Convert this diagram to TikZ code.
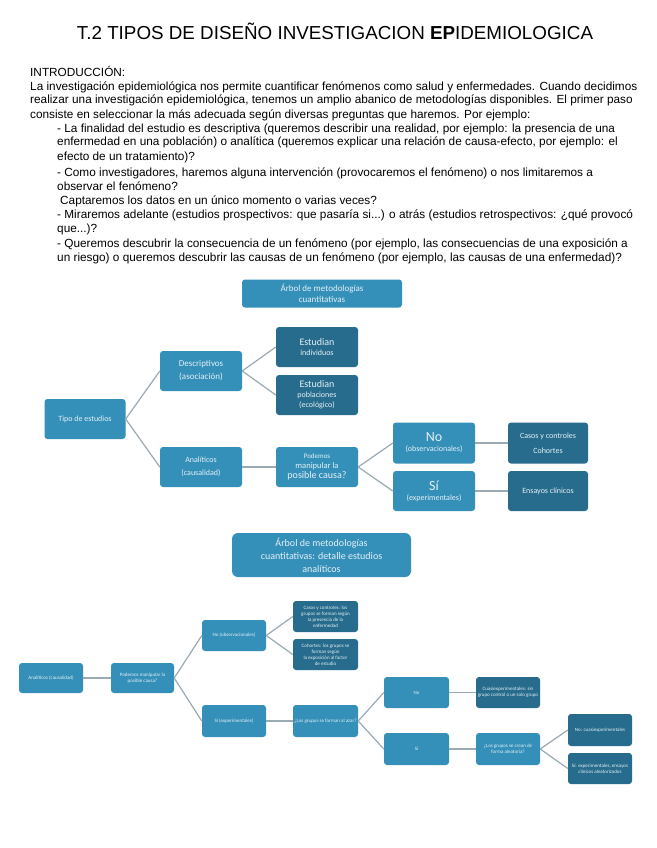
\documentclass[tikz,border=0pt]{standalone}
\usepackage{fontspec}
\setmainfont{Liberation Sans}
\newfontfamily\calib{Carlito}
\definecolor{mblue}{HTML}{3590B9}
\definecolor{dblue}{HTML}{276C8C}
\definecolor{lnk}{HTML}{9AAAB3}
\definecolor{boxtxt}{HTML}{E4F0F6}
\tikzset{
  mbox/.style={fill=mblue, rounded corners=3pt, text=boxtxt, align=center, inner sep=1pt, font=\calib\fontsize{8}{10}\selectfont},
  dbox/.style={mbox, fill=dblue},
  sbox/.style={font=\calib\fontsize{5}{6}\selectfont},
  lnkline/.style={draw=lnk, line width=1.2pt},
  introline/.style={anchor=base west, inner sep=0pt, font=\fontsize{11.8}{13}\selectfont}
}
\begin{document}
\begin{tikzpicture}[x=1pt,y=-1pt]
\useasboundingbox (0,0) rectangle (656,848);
\fill[white] (0,0) rectangle (656,848);

% Title
\node[anchor=base, inner sep=0pt, font=\fontsize{18.8}{21}\selectfont] (title) at (335,40) {T.2 TIPOS DE DISEÑO INVESTIGACION \textbf{EP}IDEMIOLOGICA};

% Introduction
\node[introline] (l1) at (30,77) {INTRODUCCIÓN:};
\node[introline] (l2) at (30,91) {La investigación epidemiológica nos permite cuantificar fenómenos como salud y enfermedades. Cuando decidimos};
\node[introline] (l3) at (30,104) {realizar una investigación epidemiológica, tenemos un amplio abanico de metodologías disponibles. El primer paso};
\node[introline] (l4) at (30,118) {consiste en seleccionar la más adecuada según diversas preguntas que haremos. Por ejemplo:};
\node[introline] (l5) at (57,132) {- La finalidad del estudio es descriptiva (queremos describir una realidad, por ejemplo: la presencia de una};
\node[introline] (l6) at (57,146) {enfermedad en una población) o analítica (queremos explicar una relación de causa-efecto, por ejemplo: el};
\node[introline] (l7) at (57,160) {efecto de un tratamiento)?};
\node[introline] (l8) at (57,176) {- Como investigadores, haremos alguna intervención (provocaremos el fenómeno) o nos limitaremos a};
\node[introline] (l9) at (57,190) {observar el fenómeno?};
\node[introline] (l10) at (60,204) {Captaremos los datos en un único momento o varias veces?};
\node[introline] (l11) at (57,218) {- Miraremos adelante (estudios prospectivos: que pasaría si...) o atrás (estudios retrospectivos: ¿qué provocó};
\node[introline] (l12) at (57,232) {que...)?};
\node[introline] (l13) at (57,247) {- Queremos descubrir la consecuencia de un fenómeno (por ejemplo, las consecuencias de una exposición a};
\node[introline] (l14) at (57,261) {un riesgo) o queremos descubrir las causas de un fenómeno (por ejemplo, las causas de una enfermedad)?};

% ---------- Tree 1 ----------
\node[mbox, minimum width=160pt, minimum height=28pt, font=\calib\fontsize{9}{10.5}\selectfont] (t1) at (322,293.5) {Árbol de metodologías\\cuantitativas};
\node[mbox, minimum width=81pt, minimum height=40pt] (tipo) at (85,419) {Tipo de estudios};
\node[mbox, minimum width=82pt, minimum height=40pt, font=\calib\fontsize{9}{13}\selectfont] (desc) at (201,371) {Descriptivos\\(asociación)};
\node[mbox, minimum width=82pt, minimum height=40pt, font=\calib\fontsize{8}{13}\selectfont] (anal) at (201,467) {Analíticos\\(causalidad)};
\node[dbox, minimum width=82pt, minimum height=40pt] (ind) at (317,347) {{\fontsize{10}{12}\selectfont Estudian}\\individuos};
\node[dbox, minimum width=82pt, minimum height=40pt, font=\calib\fontsize{8}{10}\selectfont] (pob) at (317,395) {{\fontsize{10}{12}\selectfont Estudian}\\poblaciones\\(ecológico)};
\node[mbox, minimum width=82pt, minimum height=40pt] (pod) at (317,467) {{\fontsize{7}{9}\selectfont Podemos}\\{\fontsize{8.5}{11}\selectfont manipular la}\\{\fontsize{10}{12}\selectfont posible causa?}};
\node[mbox, minimum width=82pt, minimum height=41pt] (no1) at (434,443) {{\fontsize{14}{15}\selectfont No}\\(observacionales)};
\node[mbox, minimum width=82pt, minimum height=40pt] (si1) at (434,491) {{\fontsize{14}{15}\selectfont Sí}\\(experimentales)};
\node[dbox, minimum width=80pt, minimum height=41pt, font=\calib\fontsize{8}{15}\selectfont] (cc) at (548,443) {Casos y controles\\Cohortes};
\node[dbox, minimum width=80pt, minimum height=40pt] (ens) at (548,491) {Ensayos clínicos};

\draw[lnkline] (tipo.east) -- (desc.west);
\draw[lnkline] (tipo.east) -- (anal.west);
\draw[lnkline] (desc.east) -- (ind.west);
\draw[lnkline] (desc.east) -- (pob.west);
\draw[lnkline] (anal.east) -- (pod.west);
\draw[lnkline] (pod.east) -- (no1.west);
\draw[lnkline] (pod.east) -- (si1.west);
\draw[lnkline] (no1.east) -- (cc.west);
\draw[lnkline] (si1.east) -- (ens.west);

% ---------- Tree 2 ----------
\node[mbox, minimum width=179pt, minimum height=44pt, rounded corners=6pt, font=\calib\fontsize{10}{13}\selectfont] (t2) at (321.5,555) {Árbol de metodologías\\cuantitativas: detalle estudios\\analíticos};
\node[mbox, sbox, minimum width=64pt, minimum height=30pt] (an2) at (51,678) {Analíticos (causalidad)};
\node[mbox, sbox, minimum width=63pt, minimum height=30pt] (pod2) at (142.5,678) {Podemos manipular la\\posible causa?};
\node[mbox, sbox, minimum width=64pt, minimum height=31pt] (obs2) at (234,635.5) {No (observacionales)};
\node[dbox, sbox, minimum width=65pt, minimum height=31pt] (cc2) at (325.5,616.5) {Casos y controles: los\\grupos se forman según\\la presencia de la\\enfermedad};
\node[dbox, sbox, minimum width=65pt, minimum height=31pt] (coh2) at (325.5,654.5) {Cohortes: los grupos se\\forman según\\la exposición al factor\\de estudio};
\node[mbox, sbox, minimum width=64pt, minimum height=32pt] (exp2) at (234,721) {Sí (experimentales)};
\node[mbox, sbox, minimum width=65pt, minimum height=32pt] (q2) at (325.5,721) {¿Los grupos se forman al azar?};
\node[mbox, sbox, minimum width=65pt, minimum height=31pt] (no2) at (416.5,692.5) {No};
\node[mbox, sbox, minimum width=65pt, minimum height=32pt] (si2) at (416.5,749) {Sí};
\node[dbox, sbox, minimum width=64pt, minimum height=31pt] (cua2) at (508,692.5) {Cuasiexperimentales: sin\\grupo control o un solo grupo};
\node[mbox, sbox, minimum width=64pt, minimum height=32pt] (ale2) at (508,749) {¿Los grupos se crean de\\forma aleatoria?};
\node[dbox, sbox, minimum width=64pt, minimum height=32pt] (nocua) at (600,730) {No: cuasiexperimentales};
\node[dbox, sbox, minimum width=64pt, minimum height=31pt] (siexp) at (600,768.5) {Sí: experimentales, ensayos\\clínicos aleatorizados};

\draw[lnkline] (an2.east) -- (pod2.west);
\draw[lnkline] (pod2.east) -- (obs2.west);
\draw[lnkline] (pod2.east) -- (exp2.west);
\draw[lnkline] (obs2.east) -- (cc2.west);
\draw[lnkline] (obs2.east) -- (coh2.west);
\draw[lnkline] (exp2.east) -- (q2.west);
\draw[lnkline] (q2.east) -- (no2.west);
\draw[lnkline] (q2.east) -- (si2.west);
\draw[lnkline] (no2.east) -- (cua2.west);
\draw[lnkline] (si2.east) -- (ale2.west);
\draw[lnkline] (ale2.east) -- (nocua.west);
\draw[lnkline] (ale2.east) -- (siexp.west);
\end{tikzpicture}
\end{document}
